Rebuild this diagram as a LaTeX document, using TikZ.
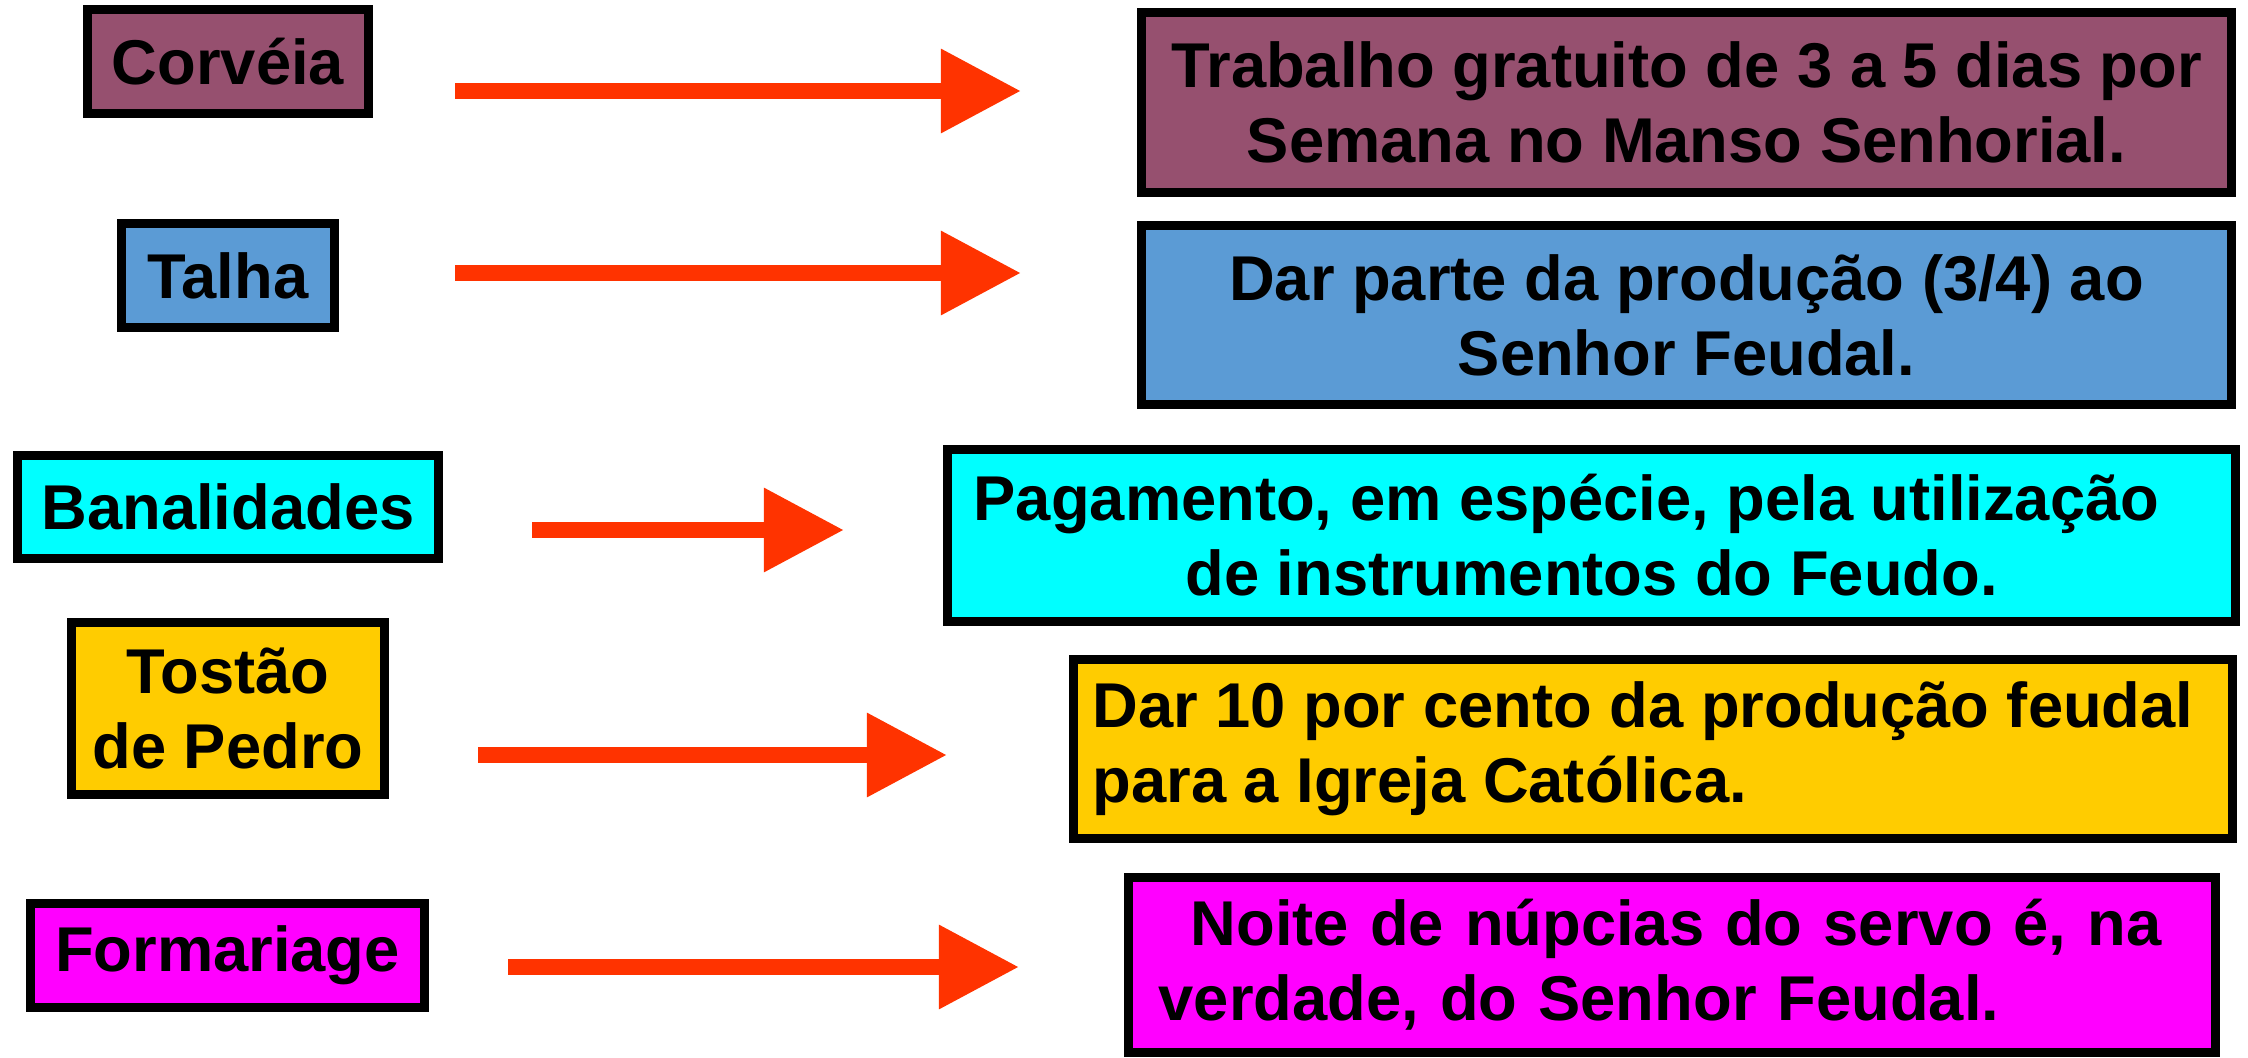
\documentclass[tikz,border=0pt]{standalone}
\usepackage{fontspec}
\setmainfont{Liberation Sans}
\usetikzlibrary{arrows.meta}
\definecolor{malva}{HTML}{96506F}
\definecolor{azul}{HTML}{5B9BD5}
\definecolor{ciano}{HTML}{00FFFF}
\definecolor{ouro}{HTML}{FFCC00}
\definecolor{rosa}{HTML}{FF00FF}
\definecolor{seta}{HTML}{FF3300}
\begin{document}
\begin{tikzpicture}[x=0.01cm,y=-0.01cm,
    caixa/.style={draw=black,line width=0.09cm,inner sep=0pt,align=center,
      font=\bfseries\fontsize{18}{21.3}\selectfont},
    flecha/.style={draw=seta,line width=0.16cm,-{Triangle[length=0.8cm,width=0.8cm]}}]
\useasboundingbox (0,0) rectangle (2248,1057);
\node[caixa,fill=malva,minimum width=2.81cm,minimum height=1.04cm] (corveia) at (228,61.5) {Corvéia};
\node[caixa,fill=azul,minimum width=2.13cm,minimum height=1.04cm] (talha) at (228,275.5) {Talha};
\node[caixa,fill=ciano,minimum width=4.21cm,minimum height=1.03cm] (banal) at (228,507) {Banalidades};
\node[caixa,fill=ouro,minimum width=3.13cm,minimum height=1.72cm] (tostao) at (228,708.5) {Tostão\\de Pedro};
\node[caixa,fill=rosa,minimum width=3.94cm,minimum height=1.04cm] (formar) at (227.5,955.5) {Formariage};
\node[caixa,fill=malva,minimum width=10.9cm,minimum height=1.8cm] (trabalho) at (1686.5,102.5)
  {Trabalho gratuito de 3 a 5 dias por\\Semana no Manso Senhorial.};
\node[caixa,fill=azul,minimum width=10.9cm,minimum height=1.79cm] (parte) at (1686.5,315)
  {Dar parte da produção (3/4) ao\\Senhor Feudal.};
\node[caixa,fill=ciano,minimum width=12.88cm,minimum height=1.72cm] (pagamento) at (1591.5,535.5)
  {Pagamento, em espécie, pela utilização\hspace*{0.5cm}\\de instrumentos do Feudo.};
\node[caixa,fill=ouro,align=left,minimum width=11.59cm,minimum height=1.79cm] (dizimo) at (1653,749)
  {Dar 10 por cento da produção feudal\hspace*{0.2cm}\\para a Igreja Católica.};
\node[caixa,fill=rosa,align=left,text width=10.26cm,minimum width=10.87cm,minimum height=1.75cm] (nupcias) at (1672,965)
  {\hspace*{0.32cm}Noite de núpcias do servo é, na\\verdade, do Senhor Feudal.};
\foreach \i/\xa/\xb/\y in {1/455/1021/91,2/455/1021/273,3/532/844/530,4/478/947/755,5/508/1019/967}{
  \coordinate (s\i) at (\xa,\y);
  \coordinate (t\i) at (\xb,\y);
  \draw[flecha] (s\i) -- (t\i);
}
\end{tikzpicture}
\end{document}
